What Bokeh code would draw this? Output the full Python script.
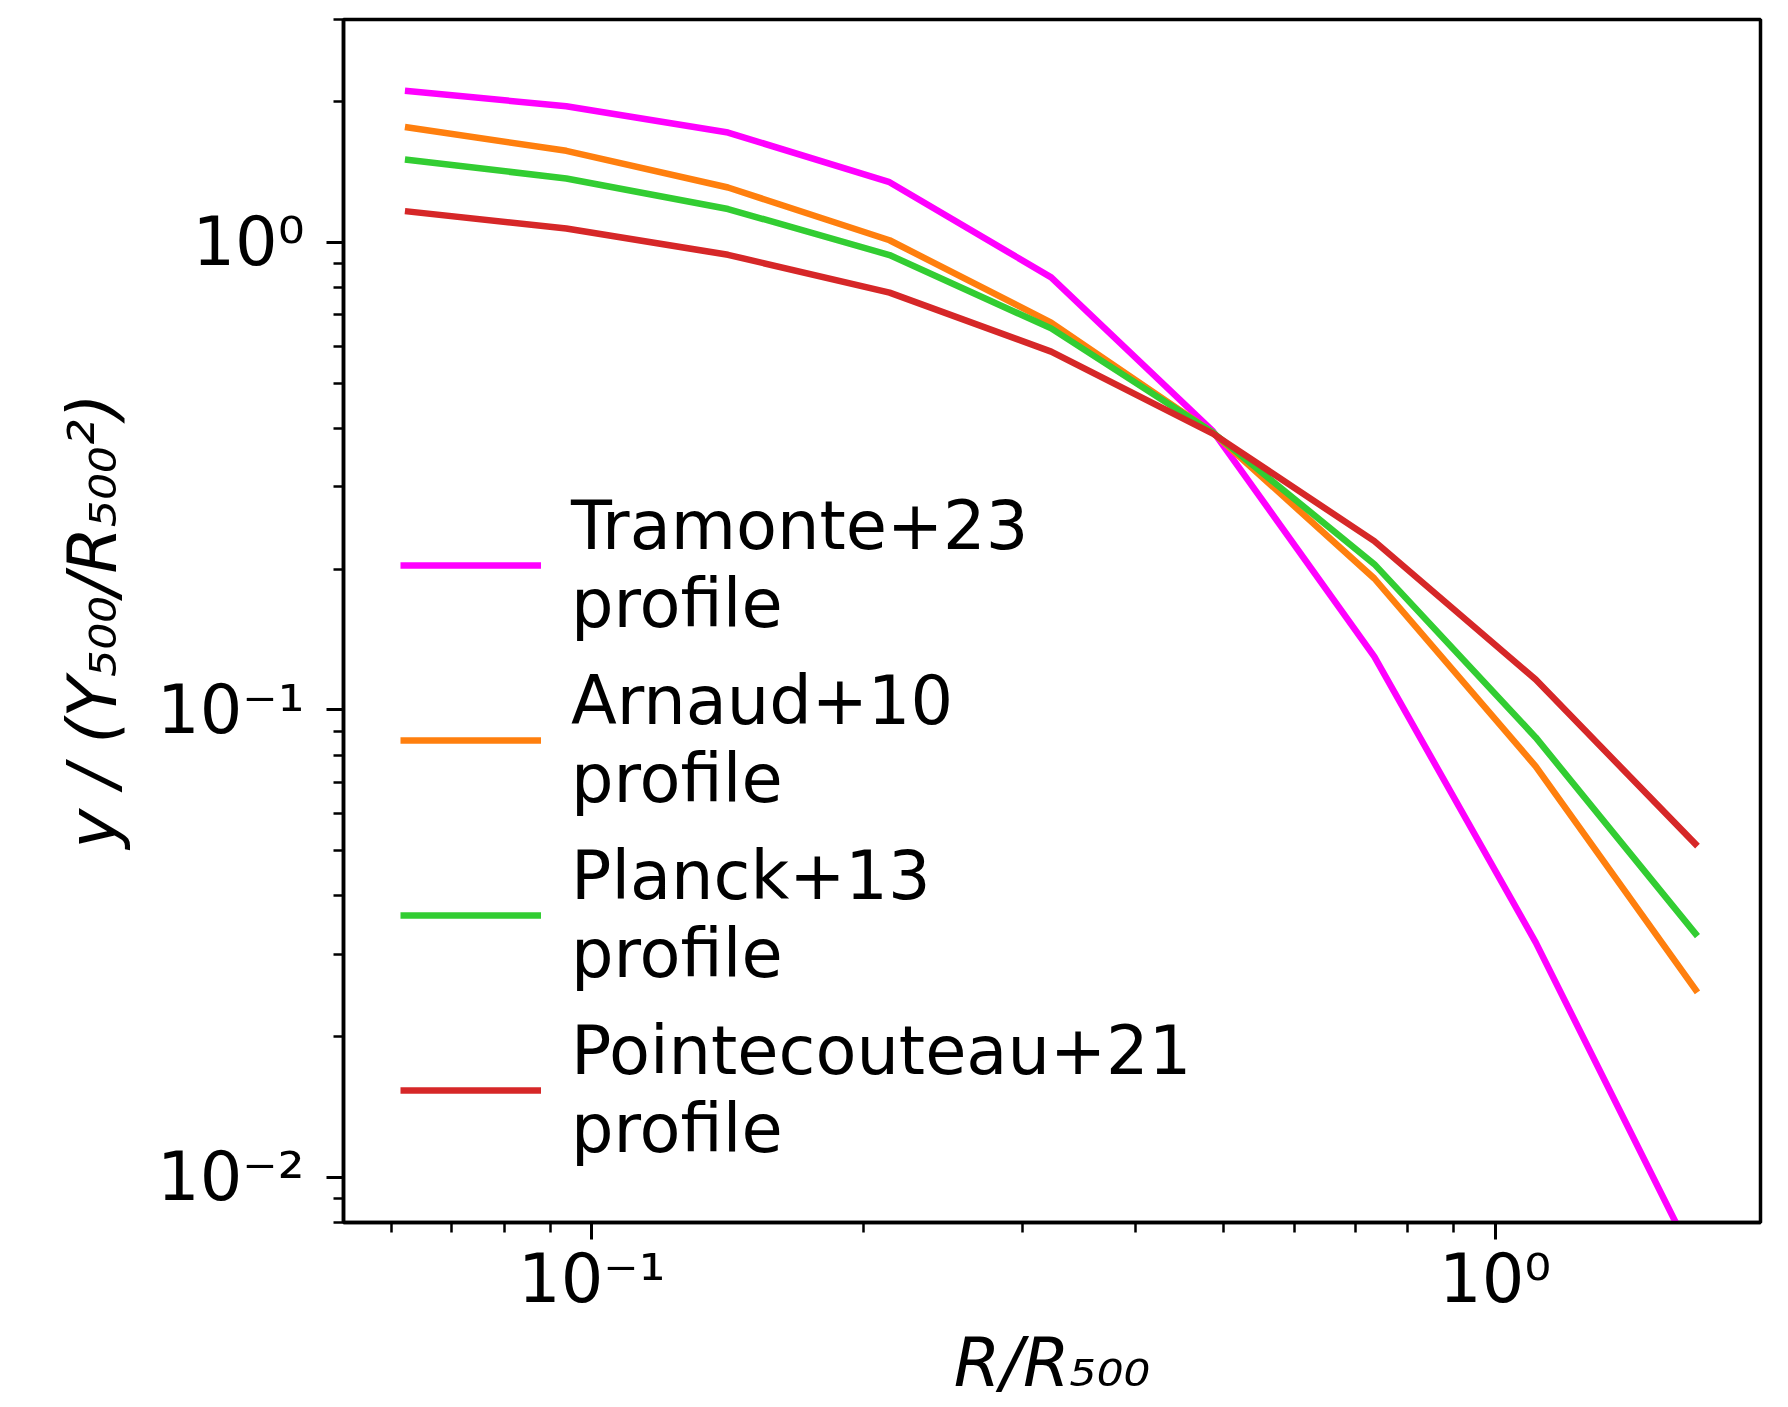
from bokeh.plotting import figure
from bokeh.models import Range1d, FixedTicker, CustomJSTickFormatter, Legend, LegendItem
from bokeh.embed import file_html
from bokeh.resources import INLINE

# Data
r_over_r500 = [0.0621, 0.0937, 0.1415, 0.2136, 0.3225, 0.487, 0.735, 1.109, 1.675]
tramonte23 = [2.111, 1.957, 1.719, 1.346, 0.842, 0.395, 0.130, 0.0318, 0.00646]
arnaud10 = [1.766, 1.571, 1.311, 1.011, 0.674, 0.392, 0.191, 0.0757, 0.02486]
planck13 = [1.505, 1.371, 1.179, 0.940, 0.655, 0.392, 0.205, 0.0873, 0.0328]
pointecouteau21 = [1.167, 1.071, 0.941, 0.781, 0.584, 0.390, 0.2296, 0.1161, 0.0511]

series_labels = ["Tramonte+23\nprofile", "Arnaud+10\nprofile", "Planck+13\nprofile", "Pointecouteau+21\nprofile"]
series_values = [tramonte23, arnaud10, planck13, pointecouteau21]
series_colors = ["#ff00ff", "#ff7f0e", "#32cd32", "#d62728"]

x_major = [0.1, 1.0]
x_minor = [0.06, 0.07, 0.08, 0.09, 0.2, 0.3, 0.4, 0.5, 0.6, 0.7, 0.8, 0.9]
y_major = [0.01, 0.1, 1.0]
y_minor = [0.008, 0.009, 0.02, 0.03, 0.04, 0.05, 0.06, 0.07, 0.08, 0.09,
           0.2, 0.3, 0.4, 0.5, 0.6, 0.7, 0.8, 0.9, 2.0, 3.0]

FONT = "DejaVu Sans"
FS = "67px"

p = figure(width=1788, height=1407, x_axis_type="log", y_axis_type="log",
           x_range=Range1d(0.0531, 1.967), y_range=Range1d(0.008, 3.0),
           output_backend="svg", toolbar_location=None,
           min_border_left=343, min_border_right=28, min_border_top=19, min_border_bottom=185)
p.grid.visible = False
p.outline_line_color = "black"
p.outline_line_width = 3.5
p.outline_line_alpha = 1.0
p.background_fill_color = "white"
p.border_fill_color = "white"

fmt = CustomJSTickFormatter(code="""
const e = Math.round(Math.log10(tick));
const sup = {'-':'\u207b','0':'\u2070','1':'\u00b9','2':'\u00b2','3':'\u00b3','4':'\u2074','5':'\u2075','6':'\u2076','7':'\u2077','8':'\u2078','9':'\u2079'};
let s = '';
for (const c of String(e)) { s += sup[c]; }
return '10' + s;
""")

p.xaxis.ticker = FixedTicker(ticks=x_major, minor_ticks=x_minor)
p.yaxis.ticker = FixedTicker(ticks=y_major, minor_ticks=y_minor)
for ax in (p.xaxis[0], p.yaxis[0]):
    ax.formatter = fmt
    ax.major_label_text_font = FONT
    ax.major_label_text_font_size = FS
    ax.major_label_text_color = "black"
    ax.axis_label_text_font = FONT
    ax.axis_label_text_font_size = FS
    ax.axis_label_text_font_style = "italic"
    ax.axis_label_text_color = "black"
    ax.axis_line_width = 3.5
    ax.axis_line_color = "black"
    ax.major_tick_in = 0
    ax.major_tick_out = 17
    ax.minor_tick_in = 0
    ax.minor_tick_out = 10
    ax.major_tick_line_width = 3
    ax.minor_tick_line_width = 2.5
    ax.major_tick_line_color = "black"
    ax.minor_tick_line_color = "black"

p.xaxis.axis_label = "R/R\u2085\u2080\u2080"
p.yaxis.axis_label = "y / (Y\u2085\u2080\u2080/R\u2085\u2080\u2080\u00b2)"
p.xaxis.major_label_standoff = 0
p.yaxis.major_label_standoff = 22
p.xaxis.axis_label_standoff = 3
p.yaxis.axis_label_standoff = 22
p.xaxis.major_label_text_line_height = 1.0
p.xaxis.axis_label_text_line_height = 0.92

items = []
for label, vals, color in zip(series_labels, series_values, series_colors):
    r = p.line(r_over_r500, vals, line_color=color, line_width=6.5, line_join="round")
    items.append(LegendItem(label=label, renderers=[r]))

legend = Legend(items=items, location=(57, 54), orientation="vertical",
                label_text_font=FONT, label_text_font_size=FS, label_text_color="black",
                glyph_width=141, glyph_height=40, label_standoff=30, spacing=19,
                padding=0, margin=0, border_line_alpha=0, background_fill_alpha=0)
p.add_layout(legend, "center")

open("out.html", "w").write(file_html(p, INLINE))
